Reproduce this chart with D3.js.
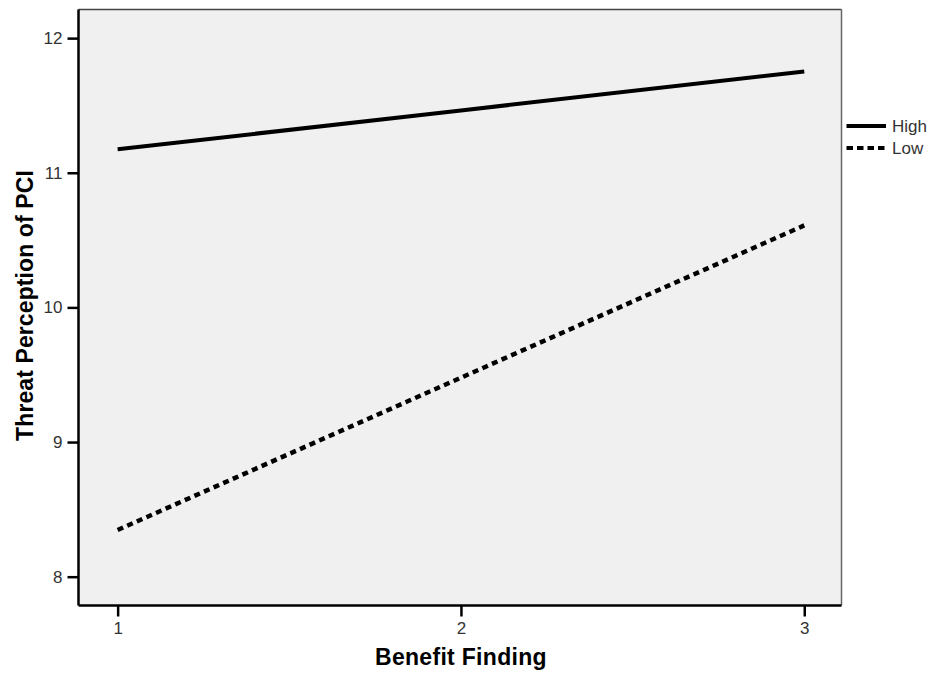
<!DOCTYPE html>
<html>
<head>
<meta charset="utf-8">
<script src="https://cdn.jsdelivr.net/npm/d3@7"></script>
<style>
  html, body { margin: 0; padding: 0; background: #ffffff; }
  svg { display: block; }
</style>
</head>
<body>
<svg id="chart" width="934" height="677"></svg>
<script>
// Estimated marginal means of threat perception across benefit finding levels
const benefitLevels = [1, 2, 3];
const highSeries = [11.174, 11.463, 11.752];
const lowSeries = [8.347, 9.478, 10.609];
const seriesNames = ["High", "Low"];
const yTicks = [8, 9, 10, 11, 12];
const xTicks = [1, 2, 3];

const svg = d3.select("#chart");
const plotLeft = 78.5, plotRight = 841.5, plotTop = 9.5, plotBottom = 605.5;
const fontFamily = "'Liberation Sans', Arial, sans-serif";

const x = d3.scaleLinear().domain([0.886, 3.1085]).range([plotLeft, plotRight]);
const y = d3.scaleLinear().domain([7.786, 12.2126]).range([plotBottom, plotTop]);

// Plot panel
svg.append("rect")
  .attr("x", plotLeft).attr("y", plotTop)
  .attr("width", plotRight - plotLeft).attr("height", plotBottom - plotTop)
  .attr("fill", "#f0f0f0")
  .attr("stroke", "none");

// Top and right frame lines
svg.append("line").attr("x1", plotLeft).attr("x2", plotRight).attr("y1", plotTop).attr("y2", plotTop)
  .attr("stroke", "#444").attr("stroke-width", 1.5);
svg.append("line").attr("x1", plotRight).attr("x2", plotRight).attr("y1", plotTop).attr("y2", plotBottom)
  .attr("stroke", "#666").attr("stroke-width", 1.5);

// Axes
const yAxis = d3.axisLeft(y).tickValues(yTicks).tickSize(11).tickPadding(5).tickFormat(d3.format("d"));
const xAxis = d3.axisBottom(x).tickValues(xTicks).tickSize(11).tickPadding(5).tickFormat(d3.format("d"));

const gy = svg.append("g").attr("transform", `translate(${plotLeft},0)`).call(yAxis);
const gx = svg.append("g").attr("transform", `translate(0,${plotBottom})`).call(xAxis);

[gy, gx].forEach(g => {
  g.attr("font-size", null).attr("font-family", null);
  g.select(".domain").attr("stroke", "#000").attr("stroke-width", 2.5);
  g.selectAll(".tick line").attr("stroke", "#000").attr("stroke-width", 2.5);
  g.selectAll(".tick text")
    .attr("fill", "#333")
    .attr("font-family", fontFamily)
    .attr("font-size", 17);
});
gy.select(".domain").attr("d", `M0,${plotTop}V${plotBottom}`);
gx.select(".domain").attr("d", `M${plotLeft},0H${plotRight}`);

// Series lines
const line = d3.line().x((d, i) => x(benefitLevels[i])).y(d => y(d));

svg.append("path")
  .datum(highSeries)
  .attr("d", line)
  .attr("fill", "none")
  .attr("stroke", "#000")
  .attr("stroke-width", 4);

svg.append("path")
  .datum(lowSeries)
  .attr("d", line)
  .attr("fill", "none")
  .attr("stroke", "#000")
  .attr("stroke-width", 4.5)
  .attr("stroke-dasharray", "6,4.5");

// Axis titles
svg.append("text")
  .attr("x", x(2)).attr("y", 665)
  .attr("text-anchor", "middle")
  .attr("font-family", fontFamily)
  .attr("font-size", 23).attr("font-weight", "bold")
  .attr("letter-spacing", 0.3)
  .attr("fill", "#000")
  .text("Benefit Finding");

svg.append("text")
  .attr("transform", `translate(33,${(plotTop + plotBottom) / 2 - 2}) rotate(-90)`)
  .attr("text-anchor", "middle")
  .attr("font-family", fontFamily)
  .attr("font-size", 23).attr("font-weight", "bold")
  .attr("letter-spacing", 0.1)
  .attr("fill", "#000")
  .text("Threat Perception of PCI");

// Legend
const legend = svg.append("g");
seriesNames.forEach((name, i) => {
  const ly = 126 + i * 22;
  legend.append("line")
    .attr("x1", 846.5).attr("x2", 886).attr("y1", ly).attr("y2", ly)
    .attr("stroke", "#000").attr("stroke-width", 4)
    .attr("stroke-dasharray", i === 1 ? "6.5,4" : null);
  legend.append("text")
    .attr("x", 892).attr("y", ly + 6)
    .attr("fill", "#333")
    .attr("font-family", fontFamily)
    .attr("font-size", 17)
    .text(name);
});
</script>
</body>
</html>
